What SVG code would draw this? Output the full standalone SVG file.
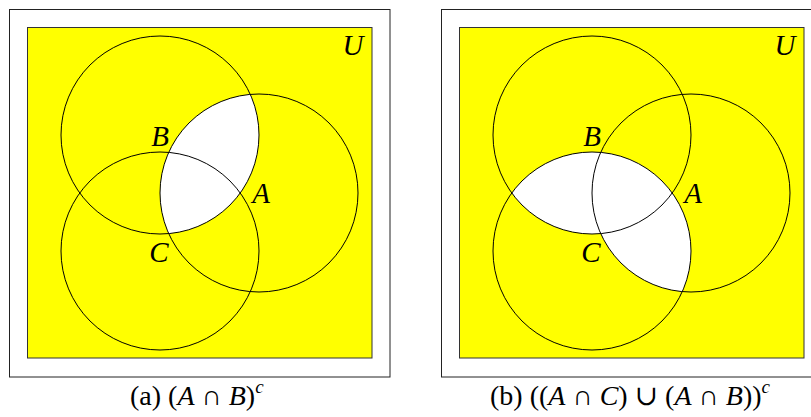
<svg xmlns="http://www.w3.org/2000/svg" width="811" height="417" viewBox="0 0 811 417">
<style>
.frame{fill:#fff;stroke:#222;stroke-width:1}
.uni{fill:#ffff00;stroke:#333;stroke-width:1}
.circ{fill:none;stroke:#000;stroke-width:1}
.hole{fill:#fff;stroke:none}
.lbl{font-family:"Liberation Serif","DejaVu Serif",serif;font-style:italic;font-size:29px;fill:#000;text-anchor:middle}
.cap{font-family:"Liberation Serif","DejaVu Serif",serif;font-size:28px;fill:#000}
.it{font-style:italic}
</style>
<defs>
<clipPath id="clipB1"><circle cx="160" cy="135" r="99"/></clipPath>
<clipPath id="clipB2"><circle cx="592" cy="135" r="99"/></clipPath>
<clipPath id="clipA2"><circle cx="691" cy="193" r="99"/></clipPath>
</defs>
<g id="panel-a">
<rect class="frame" x="9.5" y="9.5" width="380.5" height="367.5"/>
<rect class="uni" x="27.5" y="27.5" width="344.5" height="330.5"/>
<circle class="hole" cx="259" cy="193" r="99" clip-path="url(#clipB1)"/>
<g id="circle-B-a"><circle class="circ" cx="160" cy="135" r="99"/></g>
<g id="circle-A-a"><circle class="circ" cx="259" cy="193" r="99"/></g>
<g id="circle-C-a"><circle class="circ" cx="160" cy="251" r="99"/></g>
<text class="lbl" x="353" y="55">U</text>
<text class="lbl" x="160" y="146">B</text>
<text class="lbl" x="261" y="203">A</text>
<text class="lbl" x="159" y="262">C</text>
<text class="cap" x="130" y="405">(a) (<tspan class="it">A</tspan> ∩ <tspan class="it">B</tspan>)<tspan class="it" font-size="19" dy="-12">c</tspan></text>
</g>
<g id="panel-b">
<rect class="frame" x="441.5" y="9.5" width="380" height="367.5"/>
<rect class="uni" x="459.5" y="27.5" width="344.5" height="330.5"/>
<circle class="hole" cx="592" cy="251" r="99" clip-path="url(#clipB2)"/>
<circle class="hole" cx="592" cy="251" r="99" clip-path="url(#clipA2)"/>
<g id="circle-B-b"><circle class="circ" cx="592" cy="135" r="99"/></g>
<g id="circle-A-b"><circle class="circ" cx="691" cy="193" r="99"/></g>
<g id="circle-C-b"><circle class="circ" cx="592" cy="251" r="99"/></g>
<text class="lbl" x="785" y="55">U</text>
<text class="lbl" x="592" y="146">B</text>
<text class="lbl" x="693" y="203">A</text>
<text class="lbl" x="591" y="262">C</text>
<text class="cap" x="490" y="405">(b) ((<tspan class="it">A</tspan> ∩ <tspan class="it">C</tspan>) ∪ (<tspan class="it">A</tspan> ∩ <tspan class="it">B</tspan>))<tspan class="it" font-size="19" dy="-12">c</tspan></text>
</g>
</svg>
